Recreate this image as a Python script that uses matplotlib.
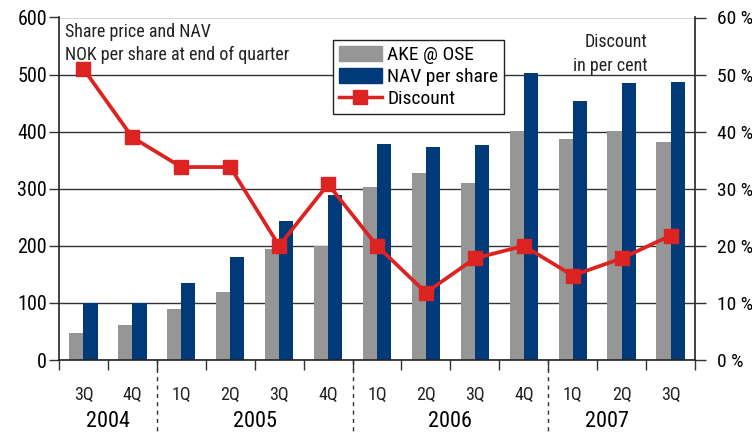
import matplotlib
matplotlib.use("Agg")
import matplotlib.pyplot as plt
from matplotlib import font_manager
from matplotlib.lines import Line2D
from matplotlib.patches import Patch
import numpy as np

quarters = ["3Q", "4Q", "1Q", "2Q", "3Q", "4Q", "1Q", "2Q", "3Q", "4Q", "1Q", "2Q", "3Q"]
years = ["2004", "2005", "2006", "2007"]
year_pos = [0.5, 3.5, 7.5, 10.7]
year_breaks = [1.5, 5.5, 9.5]
ake = [47, 62, 90, 120, 195, 200, 303, 327, 310, 401, 387, 401, 382]
nav = [99, 100, 135, 181, 243, 289, 379, 373, 377, 503, 454, 486, 487]
discount = [51, 39, 33.8, 33.8, 20, 30.8, 20, 11.8, 17.8, 20, 14.8, 17.8, 21.8]

names = {f.name for f in font_manager.fontManager.ttflist}
narrow = None
for cand in ["Liberation Sans Narrow", "Arial Narrow", "Roboto Condensed", "Open Sans Condensed"]:
    if cand in names:
        narrow = cand
        break
if narrow:
    plt.rcParams["font.family"] = [narrow, "DejaVu Sans"]
else:
    plt.rcParams["font.family"] = ["DejaVu Sans"]
    plt.rcParams["font.stretch"] = "condensed"

GRAY = "#969696"
BLUE = "#003a78"
RED = "#dd2222"

fig = plt.figure(figsize=(7.52, 4.33), dpi=100)
ax = fig.add_axes([59/752, 1 - 360/433, (695-59)/752, (360-17.5)/433])
x = np.arange(len(quarters))
w = 0.29
ax.bar(x - w/2, ake, w, color=GRAY, zorder=2)
ax.bar(x + w/2, nav, w, color=BLUE, zorder=2)
ax.set_xlim(-0.5, len(quarters) - 0.5)
ax.set_ylim(0, 600)
ax.set_yticks(range(0, 601, 100))
ax.yaxis.grid(True, color="#333333", lw=1, zorder=1)
ax.set_axisbelow(True)
ax.tick_params(axis="y", direction="out", length=7, labelsize=14.5, color="#333333", width=1, pad=1.5)
ax.set_xticks(x)
ax.set_xticklabels(quarters, fontsize=13, color="#222222")
ax.tick_params(axis="x", which="major", length=0, pad=19)
ax.set_xticks(np.arange(-0.5, len(quarters)), minor=True)
ax.tick_params(axis="x", which="minor", length=7, direction="out", color="#333333", width=1)
for s in ["left", "right", "bottom"]:
    ax.spines[s].set_color("#222222")
    ax.spines[s].set_linewidth(1.2)
ax.spines["top"].set_visible(False)

for xb in year_breaks:
    ax.plot([xb, xb], [0, -130], ls=(0, (3, 3)), color="#333333", lw=1, clip_on=False,
            transform=ax.transData)
for yp, yl in zip(year_pos, years):
    ax.text(yp, -108, yl, ha="center", va="center", fontsize=16, clip_on=False)

ax.text(0.01, 0.985, "Share price and NAV\nNOK per share at end of quarter", transform=ax.transAxes,
        ha="left", va="top", fontsize=13, color="#222222", linespacing=1.4)

ax2 = ax.twinx()
ax2.set_ylim(0, 60)
ax2.set_yticks(range(0, 61, 10))
ax2.set_yticklabels([f"{v} %" for v in range(0, 61, 10)])
ax2.tick_params(axis="y", direction="out", length=8, labelsize=14, color="#333333", width=1, pad=8)
ax2.plot(x, discount, color=RED, lw=2.7, marker="s", markersize=10.5, zorder=5)
for s in ["left", "right", "bottom", "top"]:
    ax2.spines[s].set_visible(False)

ax2.text(0.925, 0.955, "Discount\nin per cent", transform=ax2.transAxes, ha="right", va="top",
         fontsize=13, color="#222222", multialignment="right", linespacing=1.4)

handles = [Patch(color=GRAY), Patch(color=BLUE),
           Line2D([], [], color=RED, lw=2.5, marker="s", markersize=10)]
leg = ax2.legend(handles, ["AKE @ OSE", "NAV per share", "Discount"], loc="upper left",
                 bbox_to_anchor=((333-59)/636, 1 - (40-17.5)/342.5), fontsize=14,
                 frameon=True, fancybox=False, edgecolor="#222222", framealpha=1,
                 handlelength=2.2, handleheight=0.8, handletextpad=0.3, labelspacing=0.2,
                 borderpad=0.3, borderaxespad=0)
leg.get_frame().set_linewidth(1)
leg.set_zorder(10)

fig.savefig("out.png", dpi=100, facecolor="white")
